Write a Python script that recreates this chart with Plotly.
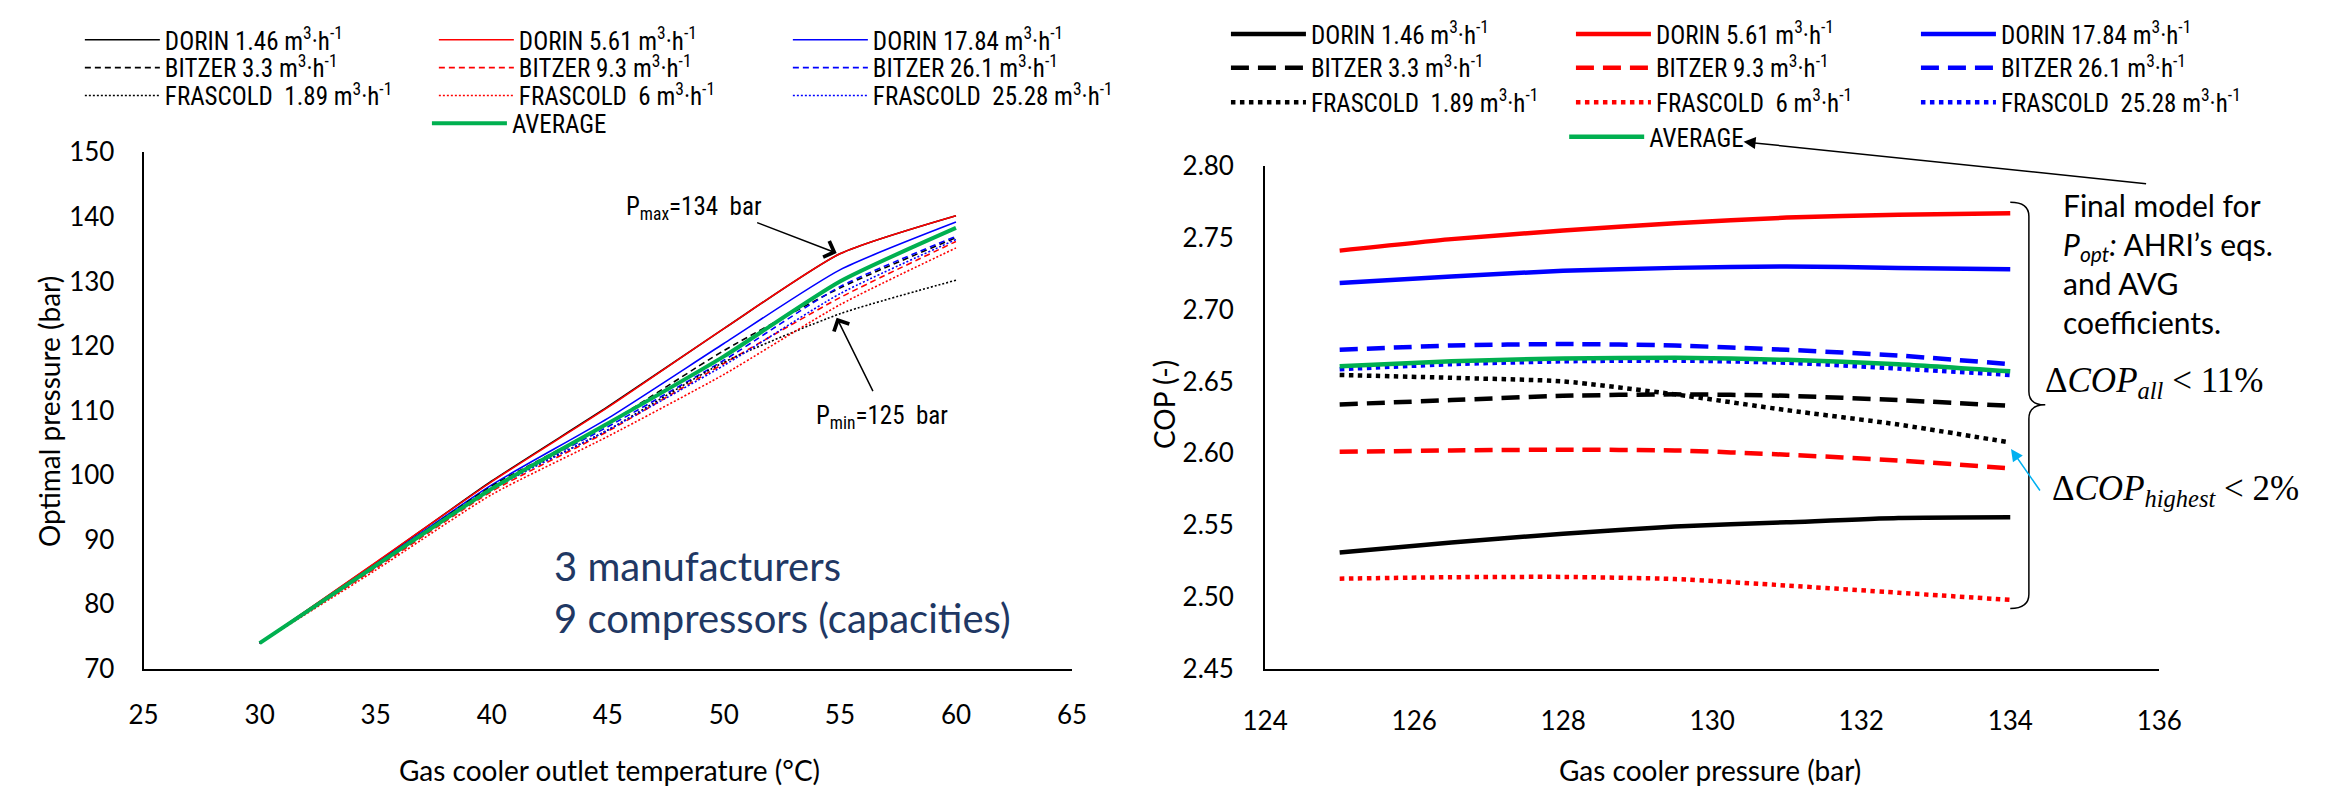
import plotly.graph_objects as go

W, H = 2346, 802

# ---------------- Left chart data: optimal pressure vs gas cooler outlet temperature
t_gc = [30, 35, 40, 45, 50, 55, 60]
popt_dorin_146 = [74, 86.4, 99.1, 110.6, 122.7, 134.3, 140.2]
popt_dorin_561 = [74, 86.5, 99.0, 110.5, 122.7, 134.3, 140.2]
popt_dorin_1784 = [74, 86.2, 98.5, 108.8, 120.4, 131.8, 139.2]
popt_bitzer_33 = [74, 86.0, 98.3, 108.0, 119.3, 129.0, 136.8]
popt_bitzer_93 = [74, 85.6, 97.5, 106.8, 117.3, 127.5, 136.2]
popt_bitzer_261 = [74, 86.0, 98.0, 107.5, 117.8, 129.2, 137.0]
popt_frascold_189 = [74, 86.0, 98.0, 107.0, 117.5, 125.0, 130.2]
popt_frascold_6 = [74, 85.3, 97.0, 106.0, 115.6, 126.4, 135.2]
popt_frascold_2528 = [74, 85.8, 97.8, 107.0, 117.0, 128.1, 136.5]
popt_average = [74, 86.0, 97.9, 108.0, 118.4, 130.0, 138.3]

# ---------------- Right chart data: COP vs gas cooler pressure
p_gc = [125, 126.5, 128, 129.5, 131, 132.5, 134]
cop_dorin_146 = [2.531, 2.538, 2.544, 2.549, 2.552, 2.555, 2.5555]
cop_dorin_561 = [2.741, 2.749, 2.755, 2.760, 2.764, 2.766, 2.767]
cop_dorin_1784 = [2.7185, 2.723, 2.727, 2.729, 2.730, 2.729, 2.728]
cop_bitzer_33 = [2.634, 2.637, 2.640, 2.641, 2.640, 2.637, 2.633]
cop_bitzer_93 = [2.601, 2.602, 2.6025, 2.602, 2.599, 2.595, 2.5895]
cop_bitzer_261 = [2.672, 2.675, 2.676, 2.675, 2.672, 2.668, 2.662]
cop_frascold_189 = [2.6545, 2.6525, 2.650, 2.641, 2.630, 2.620, 2.6075]
cop_frascold_6 = [2.5128, 2.5138, 2.514, 2.5125, 2.508, 2.503, 2.498]
cop_frascold_2528 = [2.6585, 2.662, 2.664, 2.6645, 2.663, 2.659, 2.6545]
cop_average = [2.6605, 2.664, 2.666, 2.6665, 2.665, 2.662, 2.657]

UNIT = " m<sup>3</sup>·h<sup>-1</sup>"
series_names = [
    "DORIN 1.46" + UNIT, "DORIN 5.61" + UNIT, "DORIN 17.84" + UNIT,
    "BITZER 3.3" + UNIT, "BITZER 9.3" + UNIT, "BITZER 26.1" + UNIT,
    "FRASCOLD  1.89" + UNIT, "FRASCOLD  6" + UNIT, "FRASCOLD  25.28" + UNIT,
    "AVERAGE",
]

left_values = [popt_dorin_146, popt_dorin_561, popt_dorin_1784,
               popt_bitzer_33, popt_bitzer_93, popt_bitzer_261,
               popt_frascold_189, popt_frascold_6, popt_frascold_2528,
               popt_average]
right_values = [cop_dorin_146, cop_dorin_561, cop_dorin_1784,
                cop_bitzer_33, cop_bitzer_93, cop_bitzer_261,
                cop_frascold_189, cop_frascold_6, cop_frascold_2528,
                cop_average]

# styles
BLACK, RED, BLUE, GREEN = "#000000", "#FF0000", "#0000FF", "#00B050"
colors = [BLACK, RED, BLUE, BLACK, RED, BLUE, BLACK, RED, BLUE, GREEN]
kinds = ["solid"] * 3 + ["dash"] * 3 + ["dot"] * 3 + ["solid"]
left_dash = {"solid": "solid", "dash": "6px,4px", "dot": "2px,2px"}
right_dash = {"solid": "solid", "dash": "18px,9px", "dot": "dot"}
left_legends = ["legend", "legend", "legend", "legend2", "legend2", "legend2",
                "legend3", "legend3", "legend3", "legend4"]
right_legends = ["legend5", "legend5", "legend5", "legend6", "legend6", "legend6",
                 "legend7", "legend7", "legend7", "legend8"]


def fx(px):
    return px / W


def fy(py):
    return 1 - py / H


fig = go.Figure()

for i in range(10):
    is_avg = i == 9
    fig.add_trace(go.Scatter(
        x=t_gc, y=left_values[i], name=series_names[i], mode="lines",
        line=dict(color=colors[i], width=4 if is_avg else 1.6,
                  dash=left_dash[kinds[i]], shape="spline", smoothing=0.6),
        xaxis="x", yaxis="y", legend=left_legends[i]))

for i in range(10):
    fig.add_trace(go.Scatter(
        x=p_gc, y=right_values[i], name=series_names[i], mode="lines",
        line=dict(color=colors[i], width=4.5,
                  dash=right_dash[kinds[i]], shape="spline", smoothing=0.6),
        xaxis="x2", yaxis="y2", legend=right_legends[i]))

tick_font = dict(family="Lato, sans-serif", size=26, color="black")
axis_common = dict(showline=True, linecolor="black", linewidth=2, showgrid=False,
                   zeroline=False, ticks="", tickfont=tick_font, fixedrange=True)

legend_font = dict(family="Liberation Sans Narrow, Arial Narrow, Roboto Condensed, sans-serif",
                   size=25, color="black")

ITEM_W = 75          # legend symbol width
TEXT_GAP = ITEM_W + 10


def legend_at(text_x, row_y, spacing):
    return dict(x=fx(text_x - TEXT_GAP), y=fy(row_y), xanchor="left", yanchor="middle",
                orientation="h", itemwidth=ITEM_W,
                entrywidth=spacing - TEXT_GAP - 5, entrywidthmode="pixels",
                font=legend_font, bgcolor="rgba(0,0,0,0)", borderwidth=0,
                traceorder="normal", itemclick=False, itemdoubleclick=False)


left_text_x = [143, 497, 849]
right_text_x = [1312, 1657, 2001]
left_rows = [24, 53, 82, 111]
right_rows = [18, 53, 89, 125]
LEFT_SP, RIGHT_SP = 354, 345

layout_legends = dict(
    legend=legend_at(left_text_x[0], left_rows[0], LEFT_SP),
    legend2=legend_at(left_text_x[0], left_rows[1], LEFT_SP),
    legend3=legend_at(left_text_x[0], left_rows[2], LEFT_SP),
    legend4=legend_at(left_text_x[1], left_rows[3], LEFT_SP),
    legend5=legend_at(right_text_x[0], right_rows[0], RIGHT_SP),
    legend6=legend_at(right_text_x[0], right_rows[1], RIGHT_SP),
    legend7=legend_at(right_text_x[0], right_rows[2], RIGHT_SP),
    legend8=legend_at(right_text_x[1], right_rows[3], RIGHT_SP),
)

fig.update_layout(
    width=W, height=H, margin=dict(l=0, r=0, t=0, b=0),
    paper_bgcolor="white", plot_bgcolor="white",
    font=dict(family="Lato, sans-serif", color="black"),
    showlegend=True,
    xaxis=dict(domain=[fx(123), fx(1070)], range=[25, 65], tick0=25, dtick=5,
               anchor="y", ticklabelstandoff=22, **axis_common),
    yaxis=dict(domain=[fy(679), fy(141)], range=[70, 150], tick0=70, dtick=10,
               anchor="x", ticklabelstandoff=22, **axis_common),
    xaxis2=dict(domain=[fx(1267), fx(2179)], range=[124, 136], tick0=124, dtick=2,
                anchor="y2", ticklabelstandoff=28, **axis_common),
    yaxis2=dict(domain=[fy(679), fy(155)], range=[2.45, 2.80], tick0=2.45, dtick=0.05,
                tickformat=".2f", anchor="x2", ticklabelstandoff=24, **axis_common),
    **layout_legends,
)

title_font = dict(family="Lato, sans-serif", size=28, color="black")
math_font = dict(family="Liberation Serif, DejaVu Serif, serif", size=35, color="black")
annotations = [
    # axis titles
    dict(x=fx(598), y=fy(784), xref="paper", yref="paper", text="Gas cooler outlet temperature (°C)",
         showarrow=False, font=title_font, xanchor="center", yanchor="middle"),
    dict(x=fx(26), y=fy(411), xref="paper", yref="paper", text="Optimal pressure (bar)",
         showarrow=False, font=title_font, textangle=-90, xanchor="center", yanchor="middle"),
    dict(x=fx(1721), y=fy(784), xref="paper", yref="paper", text="Gas cooler pressure (bar)",
         showarrow=False, font=title_font, xanchor="center", yanchor="middle"),
    dict(x=fx(1164), y=fy(404), xref="paper", yref="paper", text="COP (-)",
         showarrow=False, font=title_font, textangle=-90, xanchor="center", yanchor="middle"),
    # left chart notes
    dict(x=fx(540), y=fy(599), xref="paper", yref="paper",
         text="3 manufacturers<br>9 compressors (capacities)", align="left",
         showarrow=False, font=dict(family="Lato, sans-serif", size=40, color="#1F3864"),
         xanchor="left", yanchor="middle"),
    dict(x=fx(613), y=fy(199), xref="paper", yref="paper", text="P<sub>max</sub>=134  bar",
         showarrow=False, font=legend_font, xanchor="left", yanchor="middle"),
    dict(x=fx(807), y=fy(417), xref="paper", yref="paper", text="P<sub>min</sub>=125  bar",
         showarrow=False, font=legend_font, xanchor="left", yanchor="middle"),
    dict(x=54.86, y=134.4, xref="x", yref="y", ax=-81, ay=-31, text="", showarrow=True,
         arrowhead=4, arrowsize=2.2, arrowwidth=1.5, arrowcolor="black"),
    dict(x=54.86, y=124.4, xref="x", yref="y", ax=37, ay=75, text="", showarrow=True,
         arrowhead=4, arrowsize=2.2, arrowwidth=1.5, arrowcolor="black"),
    # right chart notes
    dict(x=fx(2079), y=fy(257), xref="paper", yref="paper",
         text="Final model for<br><i>P<sub>opt</sub>:</i> AHRI’s eqs.<br>and AVG<br>coefficients.",
         align="left", showarrow=False, font=dict(family="Lato, sans-serif", size=30, color="black"),
         xanchor="left", yanchor="middle"),
    dict(x=fx(2060), y=fy(381), xref="paper", yref="paper",
         text="Δ<i>COP</i><sub><i>all</i></sub> &lt; 11%", showarrow=False,
         font=math_font, xanchor="left", yanchor="middle"),
    dict(x=fx(2068), y=fy(493), xref="paper", yref="paper",
         text="Δ<i>COP</i><sub><i>highest</i></sub> &lt; 2%", showarrow=False,
         font=math_font, xanchor="left", yanchor="middle"),
    dict(x=134.01, y=2.603, xref="x2", yref="y2", ax=30, ay=43, text="", showarrow=True,
         arrowhead=2, arrowsize=1.6, arrowwidth=1.5, arrowcolor="#00B0F0"),
    dict(x=fx(1755), y=fy(130), xref="paper", yref="paper", ax=404, ay=42, text="",
         showarrow=True, arrowhead=2, arrowsize=1.6, arrowwidth=1.5, arrowcolor="black"),
]
fig.update_layout(annotations=annotations)

# curly bracket grouping the COP curves
brace = ("M 134.0,2.7747 Q 134.25,2.7747 134.25,2.765 L 134.25,2.643 "
         "Q 134.25,2.6337 134.47,2.6337 Q 134.25,2.6337 134.25,2.624 "
         "L 134.25,2.502 Q 134.25,2.4921 134.0,2.4921")
fig.add_shape(type="path", path=brace, xref="x2", yref="y2",
              line=dict(color="black", width=1.5))

fig.write_html("out.html")
